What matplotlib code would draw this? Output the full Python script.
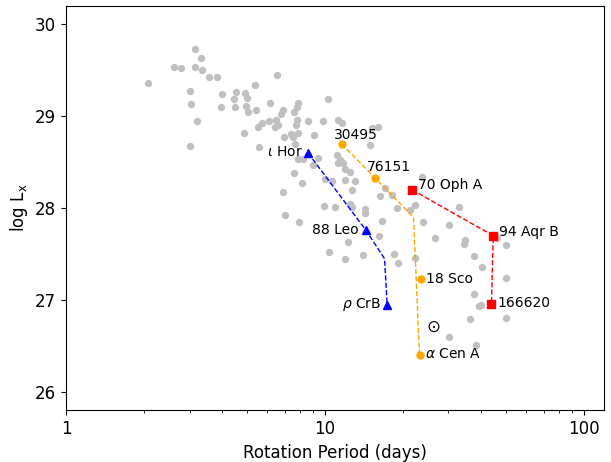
import matplotlib
matplotlib.use("Agg")
import matplotlib.pyplot as plt
import numpy as np

# Background sample (gray points): rotation period (days), log Lx
sample_P = [2.08, 2.61, 2.78, 3.15, 3.32, 3.15, 3.35, 3.58, 3.82, 3.01, 3.03, 3.22, 3.01,
            6.56, 5.37, 4.01, 4.52, 4.45, 4.91, 4.99, 3.98, 4.51, 4.94, 5.06, 5.44, 6.14,
            6.86, 6.75, 6.50, 6.08, 5.73, 5.53, 6.40, 6.59, 4.88, 5.55, 6.94,
            7.88, 7.77, 7.60, 10.30, 7.77, 7.72, 8.57, 9.85, 11.26, 11.61,
            7.43, 7.88, 7.54, 7.65, 9.09, 15.17, 16.09, 14.94, 9.37, 9.01, 7.88, 8.24,
            11.10, 11.43, 11.77, 11.26, 11.96, 12.50, 7.58, 8.15, 6.89, 11.96, 13.07,
            10.62, 10.00, 12.69, 9.94, 10.93, 12.50, 12.69, 14.29, 14.29, 7.00, 7.95,
            16.59, 16.24, 12.23, 10.39, 11.96, 14.07, 18.51, 19.13, 22.19, 18.96, 21.35,
            22.33, 23.91, 26.70, 30.06, 32.86, 34.67, 34.36, 37.80, 40.50, 49.98, 49.98,
            37.56, 39.28, 40.06, 36.48, 49.98, 30.06, 38.48, 23.70, 17.08, 18.18, 16.34,
            46.30]
sample_Lx = [29.36, 29.54, 29.52, 29.73, 29.63, 29.54, 29.50, 29.43, 29.43, 29.28, 29.13, 28.95, 28.68,
             29.45, 29.34, 29.24, 29.26, 29.19, 29.25, 29.20, 29.10, 29.10, 29.11, 29.05, 29.07, 29.14,
             29.07, 29.02, 28.96, 28.95, 28.93, 28.88, 28.88, 28.90, 28.82, 28.67, 28.77,
             29.14, 29.10, 29.05, 29.19, 28.96, 28.91, 28.95, 28.95, 28.96, 28.93,
             28.81, 28.82, 28.77, 28.70, 28.80, 28.87, 28.88, 28.69, 28.55, 28.47, 28.54, 28.54,
             28.58, 28.52, 28.49, 28.49, 28.43, 28.39, 28.38, 28.27, 28.18, 28.31, 28.30,
             28.30, 28.32, 28.20, 28.02, 28.01, 28.05, 28.01, 27.99, 27.95, 27.92, 27.85,
             27.86, 27.70, 27.63, 27.52, 27.45, 27.49, 27.50, 27.40, 27.46, 28.00, 27.98,
             28.03, 27.85, 27.67, 27.82, 28.01, 27.65, 27.61, 27.48, 27.36, 27.60, 27.24,
             27.06, 26.94, 26.95, 26.79, 26.80, 26.60, 26.51, 28.34, 28.22, 28.14, 28.13,
             27.67]

# Blue track: iota Hor -> 88 Leo -> (vertex) -> rho CrB
blue_P = [8.61, 14.4, 17.0, 17.4]
blue_Lx = [28.60, 27.76, 27.45, 26.95]
blue_names = [r"$\iota$ Hor", "88 Leo", None, r"$\rho$ CrB"]

# Orange track: HD 30495 -> HD 76151 -> (vertex) -> alpha Cen A
orange_P = [11.6, 15.6, 22.0, 23.2]
orange_Lx = [28.70, 28.33, 27.90, 26.40]
orange_names = ["30495", "76151", None, r"$\alpha$ Cen A"]

# 18 Sco (orange, off the track line)
sco_P = [23.5]
sco_Lx = [27.23]

# Red track: 70 Oph A -> 94 Aqr B -> HD 166620
red_P = [21.7, 44.7, 44.0]
red_Lx = [28.20, 27.70, 26.96]
red_names = ["70 Oph A", "94 Aqr B", "166620"]

# Sun
sun_P = [26.1]
sun_Lx = [26.71]

fig = plt.figure(figsize=(6.11, 4.62), dpi=100)
ax = fig.add_axes([0.108, 0.112, 0.881, 0.875])

ax.plot(sample_P, sample_Lx, 'o', color='silver', markersize=5.3, markeredgewidth=0, zorder=1)

ax.plot(blue_P, blue_Lx, '--', color='blue', lw=1, zorder=2)
ax.plot([blue_P[i] for i in (0, 1, 3)], [blue_Lx[i] for i in (0, 1, 3)], '^',
        color='blue', markersize=6, zorder=3)

ax.plot(orange_P, orange_Lx, '--', color='orange', lw=1, zorder=2)
ax.plot([orange_P[i] for i in (0, 1, 3)], [orange_Lx[i] for i in (0, 1, 3)], 'o',
        color='orange', markersize=5, zorder=3)
ax.plot(sco_P, sco_Lx, 'o', color='orange', markersize=5, zorder=3)

ax.plot(red_P, red_Lx, '--', color='red', lw=1, zorder=2)
ax.plot(red_P, red_Lx, 's', color='red', markersize=5.5, zorder=3)

ax.text(sun_P[0], sun_Lx[0], r'$\odot$', fontsize=12, ha='center', va='center', zorder=4)

# labels: (name, x, y, dx_pt, dy_pt, ha)
def lab(name, x, y, dx, dy, ha):
    ax.annotate(name, (x, y), xytext=(dx, dy), textcoords='offset points',
                ha=ha, va='baseline', fontsize=10, zorder=5)

lab(blue_names[0], blue_P[0], blue_Lx[0], -3.6, -2.4, 'right')
lab(blue_names[1], blue_P[1], blue_Lx[1], -5.3, -3.1, 'right')
lab(blue_names[3], blue_P[3], blue_Lx[3], -4.5, -2.3, 'right')
lab(orange_names[0], orange_P[0], orange_Lx[0], -5.5, 3.6, 'left')
lab(orange_names[1], orange_P[1], orange_Lx[1], -5.5, 4.8, 'left')
lab(orange_names[3], orange_P[3], orange_Lx[3], 4.1, -2.4, 'left')
lab("18 Sco", sco_P[0], sco_Lx[0], 3.6, -3.1, 'left')
lab(red_names[0], red_P[0], red_Lx[0], 4.0, 0.5, 'left')
lab(red_names[1], red_P[1], red_Lx[1], 4.0, 0.0, 'left')
lab(red_names[2], red_P[2], red_Lx[2], 4.1, -2.4, 'left')

ax.set_xscale('log')
ax.set_xlim(1, 120)
ax.set_ylim(25.8, 30.2)
ax.set_xticks([1, 10, 100])
ax.set_xticklabels(['1', '10', '100'])
ax.set_yticks([26, 27, 28, 29, 30])
ax.tick_params(labelsize=12)
ax.set_xlabel('Rotation Period (days)', fontsize=12)
ax.set_ylabel(r'log L$_\mathrm{x}$', fontsize=12)

fig.savefig('out.png', dpi=100)
